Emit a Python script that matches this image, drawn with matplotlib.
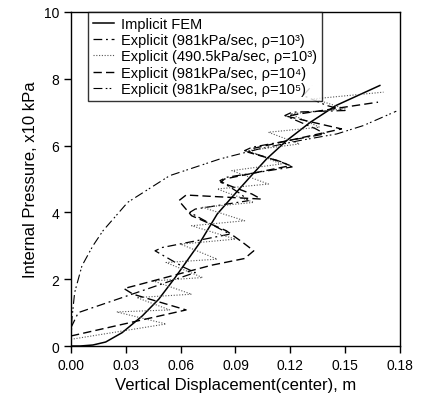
import matplotlib
matplotlib.use("Agg")
import matplotlib.pyplot as plt

plt.rcParams['font.family'] = ['Liberation Sans', 'DejaVu Sans']

# Implicit FEM (solid)
fem_x = [0.000, 0.005, 0.012, 0.019, 0.028, 0.039, 0.048, 0.057, 0.0706, 0.080, 0.088, 0.097, 0.107, 0.118, 0.131, 0.145, 0.157, 0.169]
fem_y = [0.00, 0.00, 0.03, 0.12, 0.40, 0.90, 1.40, 2.05, 3.10, 3.95, 4.45, 5.00, 5.60, 6.15, 6.70, 7.20, 7.50, 7.80]

# Explicit 981kPa/sec, rho=10^3
e3_x = [0.000, 0.004, 0.068, 0.062, 0.046, 0.050, 0.087, 0.080, 0.065, 0.068, 0.097, 0.093, 0.0815, 0.085, 0.121, 0.116, 0.095, 0.099, 0.139, 0.134, 0.117, 0.121, 0.150, 0.140, 0.127, 0.132]
e3_y = [0.55, 1.00, 2.20, 2.35, 2.85, 2.95, 3.35, 3.55, 4.00, 4.10, 4.35, 4.55, 4.95, 5.05, 5.36, 5.50, 5.85, 5.95, 6.35, 6.50, 6.90, 7.00, 7.05, 7.20, 7.50, 7.80]

# Explicit 490.5kPa/sec, rho=10^3
e3h_x = [0.000, 0.052, 0.025, 0.054, 0.036, 0.066, 0.045, 0.072, 0.052, 0.080, 0.060, 0.090, 0.066, 0.095, 0.072, 0.100, 0.080, 0.108, 0.088, 0.115, 0.097, 0.125, 0.108, 0.136, 0.120, 0.150, 0.133, 0.171]
e3h_y = [0.20, 0.66, 1.02, 1.08, 1.45, 1.55, 1.95, 2.05, 2.50, 2.60, 3.05, 3.20, 3.60, 3.75, 4.15, 4.30, 4.70, 4.85, 5.25, 5.45, 5.85, 6.05, 6.40, 6.55, 6.95, 7.10, 7.40, 7.60]

# Explicit 981kPa/sec, rho=10^4
e4_x = [0.000, 0.063, 0.034, 0.029, 0.036, 0.077, 0.095, 0.100, 0.094, 0.085, 0.066, 0.059, 0.063, 0.104, 0.099, 0.082, 0.084, 0.120, 0.113, 0.097, 0.100, 0.148, 0.140, 0.118, 0.125, 0.168]
e4_y = [0.30, 1.08, 1.55, 1.72, 1.82, 2.42, 2.62, 2.85, 3.10, 3.45, 3.90, 4.35, 4.52, 4.40, 4.55, 4.90, 5.00, 5.40, 5.55, 5.80, 5.92, 6.50, 6.60, 6.88, 6.95, 7.30]

# Explicit 981kPa/sec, rho=10^5
e5_x = [0.000, 0.0005, 0.002, 0.006, 0.012, 0.0175, 0.031, 0.054, 0.0815, 0.103, 0.125, 0.1455, 0.160, 0.178]
e5_y = [0.00, 0.80, 1.60, 2.40, 3.00, 3.45, 4.30, 5.10, 5.60, 5.90, 6.15, 6.35, 6.60, 7.03]

labels = ['Implicit FEM',
          'Explicit (981kPa/sec, \u03c1=10\u00b3)',
          'Explicit (490.5kPa/sec, \u03c1=10\u00b3)',
          'Explicit (981kPa/sec, \u03c1=10\u2074)',
          'Explicit (981kPa/sec, \u03c1=10\u2075)']

fig = plt.figure(figsize=(4.21, 4.06), dpi=100)
ax = fig.add_axes([0.1686, 0.1453, 0.7814, 0.8227])

ax.plot(fem_x, fem_y, color='black', lw=1.1, label=labels[0])
ax.plot(e3_x, e3_y, color='black', lw=0.9, dashes=(7, 3, 1.5, 3), label=labels[1])
ax.plot(e3h_x, e3h_y, color='#555555', lw=0.8, dashes=(1, 1.5), label=labels[2])
ax.plot(e4_x, e4_y, color='black', lw=1.0, dashes=(6, 3), label=labels[3])
ax.plot(e5_x, e5_y, color='black', lw=0.8, dashes=(8, 3, 1.5, 2, 1.5, 3), label=labels[4])

ax.set_xlim(0, 0.18)
ax.set_ylim(0, 10)
ax.set_xticks([0.00, 0.03, 0.06, 0.09, 0.12, 0.15, 0.18])
ax.set_xticklabels(['0.00', '0.03', '0.06', '0.09', '0.12', '0.15', '0.18'])
ax.set_yticks([0, 2, 4, 6, 8, 10])
ax.tick_params(direction='out', length=5, width=1, labelsize=10, colors='black')
for s in ax.spines.values():
    s.set_linewidth(1.0)

ax.set_xlabel('Vertical Displacement(center), m', fontsize=12)
ax.set_ylabel('Internal Pressure, x10 kPa', fontsize=12)

leg = ax.legend(loc='upper left', fontsize=10.5, frameon=True, fancybox=False,
                edgecolor='black', handlelength=1.4, handletextpad=0.5,
                borderpad=0.35, labelspacing=0.15, borderaxespad=0,
                bbox_to_anchor=(0.052, 1.0))
leg.get_frame().set_linewidth(1.0)

fig.savefig('out.png', dpi=100)
